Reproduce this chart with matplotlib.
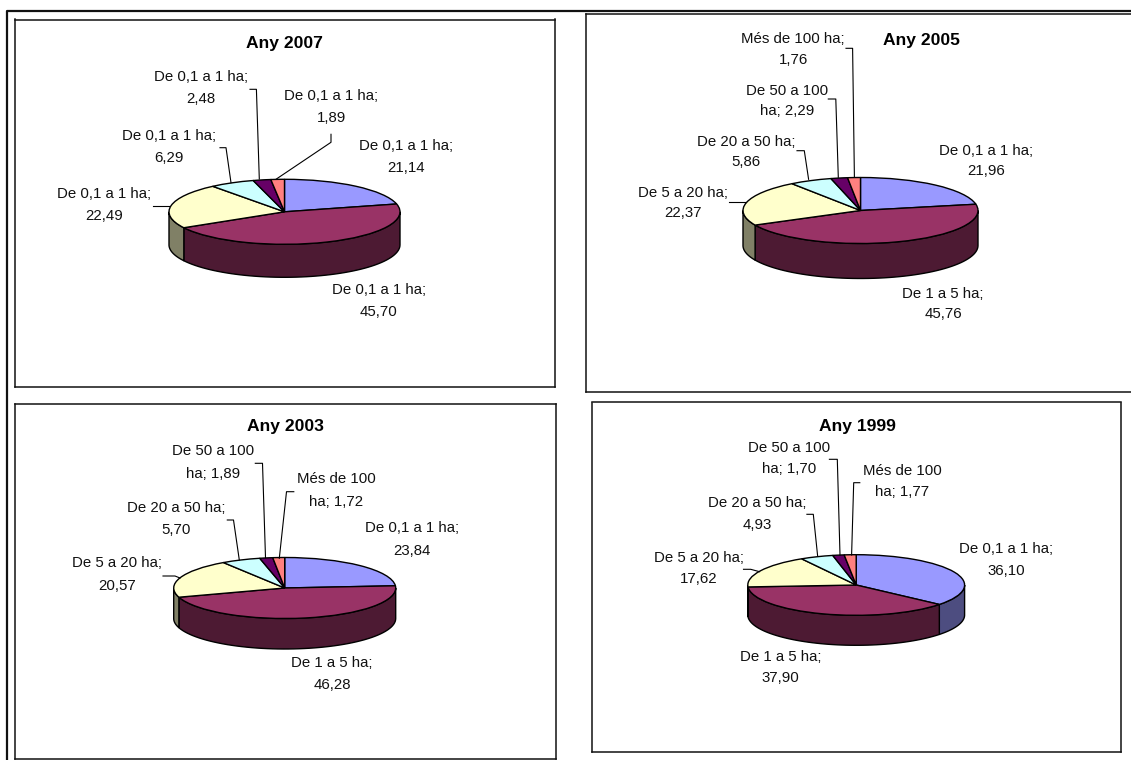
import numpy as np
import matplotlib
matplotlib.use('Agg')
import matplotlib.pyplot as plt

plt.rcParams['font.family'] = 'Liberation Sans'

W, H = 1131, 760

#chart data
titles = ['Any 2007', 'Any 2005', 'Any 2003', 'Any 1999']
values_2007 = [21.14, 45.70, 22.49, 6.29, 2.48, 1.89]
values_2005 = [21.96, 45.76, 22.37, 5.86, 2.29, 1.76]
values_2003 = [23.84, 46.28, 20.57, 5.70, 1.89, 1.72]
values_1999 = [36.10, 37.90, 17.62, 4.93, 1.70, 1.77]
names_2007 = ['De 0,1 a 1 ha;'] * 6
names_2005 = ['De 0,1 a 1 ha;', 'De 1 a 5 ha;', 'De 5 a 20 ha;', 'De 20 a 50 ha;', 'De 50 a 100\nha;', 'Més de 100 ha;']
names_2003 = ['De 0,1 a 1 ha;', 'De 1 a 5 ha;', 'De 5 a 20 ha;', 'De 20 a 50 ha;', 'De 50 a 100\nha;', 'Més de 100\nha;']
names_1999 = names_2003

#excel colours, top of the slice and its side
top_colors = ['#9999FF', '#993366', '#FFFFCC', '#CCFFFF', '#660066', '#FF8080']
side_colors = ['#4D4D80', '#4D1A33', '#808066', '#668080', '#330033', '#804040']

#layout in pixels of the reference
boxes = [(14.5, 19.5, 554.5, 387), (586, 14, 1145, 391.5), (14.5, 403.5, 555.5, 759), (591.5, 402.5, 1121, 752)]
pies = [(284.5, 211.8, 115.5, 32.5, 33), (860.5, 210.5, 117.5, 33, 35), (284.7, 588, 111, 30.5, 30.5), (856.2, 585, 108.4, 30.3, 30)]
title_pos = [(284.7, 43.3), (921.7, 40.7), (285.5, 426), (857, 426.7)]
line_gaps = [1.75, 1.62, 1.73, 1.66]
label_pos = [
    [(406, 157), (379, 301), (104.4, 205), (169, 146.7), (200.7, 88), (331, 107)],
    [(986, 161), (943, 304), (682.7, 203), (746, 152), (786.8, 101), (793, 49.7)],
    [(412, 539.5), (332, 674), (117, 574.5), (176.4, 518.7), (213, 462.5), (336.4, 490.5)],
    [(1006.5, 560), (780.7, 667.3), (698.8, 568.8), (757, 514), (789, 458.5), (902, 481.7)],
]
leaders = [
    [[(152.7, 205.7), (169, 205.7)], [(220, 147.7), (226, 147.7), (231, 182.7)],
     [(250, 89.3), (256.4, 89.3), (259.3, 179)], [(331, 134.3), (331, 142.3), (276.4, 179)]],
    [[(729, 201.7), (746, 201.7)], [(797, 150.7), (804.3, 150.7), (808.6, 179.3)],
     [(828.3, 99), (835.8, 99), (838.3, 177.3)], [(846, 48.3), (852.6, 48.3), (854.4, 177.3)]],
    [[(163, 576), (175, 576), (180, 578)], [(227.3, 520), (233.5, 520), (239.3, 560)],
     [(255.3, 463.3), (262.5, 463.3), (265.5, 557.7)], [(293.8, 491.7), (286.5, 491.7), (279.3, 558.3)]],
    [[(743.5, 569.3), (750.7, 569.3), (759.6, 571.7)], [(806.9, 514.3), (813.3, 514.3), (817.6, 555.7)],
     [(829.4, 459.3), (837.3, 459.3), (840, 555)], [(859.8, 482.7), (853.7, 482.7), (851.6, 555)]],
]

all_values = [values_2007, values_2005, values_2003, values_1999]
all_names = [names_2007, names_2005, names_2003, names_1999]

fig = plt.figure(figsize=(W / 100, H / 100), dpi=100, facecolor='white')

for i in range(4):
    left, top, right, bottom = boxes[i]
    cx, cy, rx, ry, depth = pies[i]

    ax = fig.add_axes([left / W, 1 - bottom / H, (right - left) / W, (bottom - top) / H])
    wedges, _ = ax.pie(all_values[i], colors=top_colors, startangle=90, counterclock=False,
                       wedgeprops={'edgecolor': 'black', 'linewidth': 1, 'zorder': 3})
    ax.set_aspect('auto')
    ax.set_xlim((left - cx) / rx, (right - cx) / rx)
    ax.set_ylim((cy - bottom) / ry, (cy - top) / ry)
    ax.set_xticks([])
    ax.set_yticks([])
    ax.set_frame_on(True)
    for spine in ax.spines.values():
        spine.set_linewidth(1.1)
        spine.set_color('#111111')

    #side of the pie, only the part facing us
    d = depth / ry
    for wedge, c in zip(wedges, side_colors):
        for k in (-360, 0, 360):
            lo = max(wedge.theta1, 180 + k)
            hi = min(wedge.theta2, 360 + k)
            if hi > lo:
                t = np.radians(np.linspace(lo, hi, 60))
                xs = np.r_[np.cos(t), np.cos(t[::-1])]
                ys = np.r_[np.sin(t), np.sin(t[::-1]) - d]
                ax.fill(xs, ys, facecolor=c, edgecolor='black', linewidth=1, zorder=2)

#overlay in pixels for the texts and leader lines
over = fig.add_axes([0, 0, 1, 1], facecolor='none')
over.set_xlim(0, W)
over.set_ylim(H, 0)
over.axis('off')

#outer frame
over.plot([6.5, 6.5, W], [H, 10.5, 10.5], color='#111111', lw=1.6)

for i in range(4):
    over.text(title_pos[i][0], title_pos[i][1], titles[i], fontsize=12.6, fontweight='bold',
              ha='center', va='center')
    for name, val, pos in zip(all_names[i], all_values[i], label_pos[i]):
        txt = f'{val:.2f}'.replace('.', ',')
        sep = ' ' if '\n' in name else '\n'
        over.text(pos[0], pos[1], name + sep + txt, fontsize=10.8, ha='center', va='center',
                  linespacing=line_gaps[i], color='#111111')
    for line in leaders[i]:
        xs, ys = zip(*line)
        over.plot(xs, ys, color='black', lw=0.8)

fig.savefig('out.png', dpi=100)
